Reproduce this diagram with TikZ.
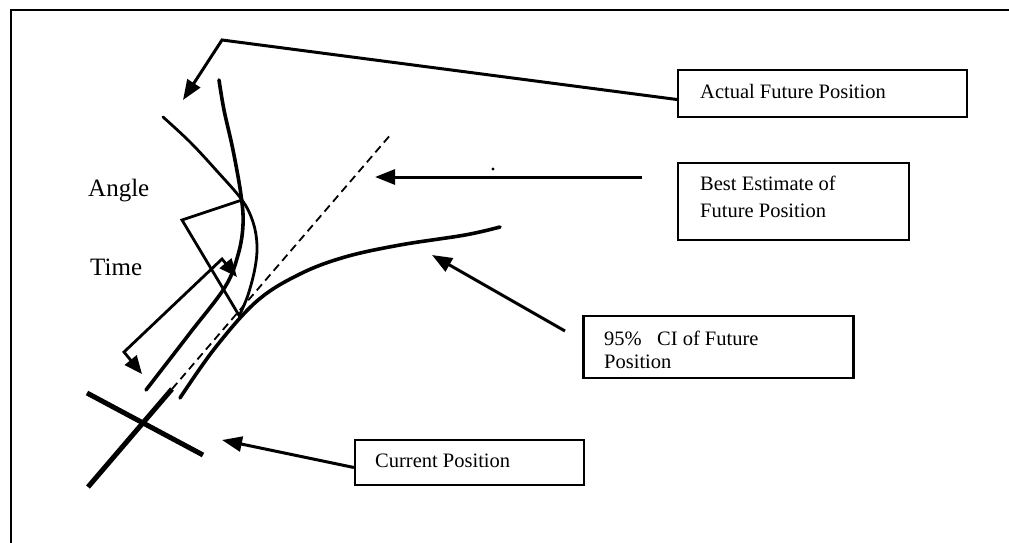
\documentclass[tikz,border=0pt]{standalone}
\usepackage{fontspec}
\setmainfont{Liberation Serif}
\usetikzlibrary{arrows.meta}
\begin{document}
\begin{tikzpicture}[x=1pt,y=-1pt,
  box/.style={draw,line width=2.1pt,inner sep=0pt},
  lbl/.style={anchor=base west,inner sep=0pt,font=\fontsize{20.5}{24}\selectfont},
  big/.style={anchor=base west,inner sep=0pt,font=\fontsize{25}{30}\selectfont},
  arr/.style={line width=3pt,-{Triangle[length=20pt,width=15pt]}},
  curve/.style={line width=3.6pt,line cap=round},
  thin/.style={line width=2.8pt,line cap=round}]
\useasboundingbox (0,0) rectangle (1009,543);
% frame
\draw[line width=2.2pt] (11,543) -- (11,10) -- (1009,10);
% boxes
\node (actual) [box,minimum width=289pt,minimum height=47pt] at (822.5,93.5) {};
\node (best) [box,minimum width=231pt,minimum height=77pt] at (793.5,201.5) {};
\node (ci) [box,minimum width=270pt,minimum height=62pt] at (718.5,347) {};
\node (current) [box,minimum width=229pt,minimum height=45pt] at (469.5,462.5) {};
% texts
\node (t1) [lbl] at (700,99) {Actual Future Position};
\node (t2) [lbl] at (700,190) {Best Estimate of};
\node (t3) [lbl] at (700,217) {Future Position};
\node (t4) [lbl] at (604,345) {95\%\ \ \ CI of Future};
\node (t5) [lbl] at (604,368) {Position};
\node (t6) [lbl] at (375,467) {Current Position};
\node (angle) [big] at (88,196) {Angle};
\node (time) [big] at (90,275) {Time};
% coordinates
\coordinate (bend) at (222,40);
\coordinate (tipA) at (183,100);
\coordinate (bstart) at (642,177);
\coordinate (tipB) at (375,177);
\coordinate (cstart) at (565,331);
\coordinate (tipC) at (432,255);
\coordinate (tipD) at (222,440);
% connectors
\draw[arr] ([yshift=-6pt]actual.west) -- (bend) -- (tipA);
\draw[arr] (bstart) -- (tipB);
\draw[arr] (cstart) -- (tipC);
\draw[arr] ([yshift=-5pt]current.west) -- (tipD);
\fill (493,169) circle (1.6pt);
% path: thick solid then dashed estimate
\coordinate (p0) at (88,487);
\coordinate (p1) at (172,389);
\coordinate (p2) at (392,133);
\draw[line width=5pt] (p0) -- (p1);
\draw[line width=1.8pt,dash pattern=on 8pt off 5pt] (p1) -- (p2);
\draw[line width=5pt] (87,393) -- (203,455);
% CI curves
\draw[curve] plot[smooth,tension=0.6] coordinates {(180,398) (215,348) (257,301) (300,274) (345,257) (400,245) (465,235) (500,227)};
\draw[curve] plot[smooth,tension=0.6] coordinates {(146,390) (190,333) (225,287) (238,255) (243,225) (241,195) (233,150) (224,110) (219,80)};
% actual curve
\draw[thin] plot[smooth,tension=0.6] coordinates {(163,117) (190,142) (216,170) (242,200) (253,222) (257,245) (255,268) (248,295) (240,314)};
% angle marker
\draw[thin,line cap=butt] (242,200) -- (182,220) -- (240,317);
% time arrow
\draw[line width=2.8pt,{Triangle[length=18pt,width=15pt]}-{Triangle[length=18pt,width=15pt]}] (237,277) -- (222,259) -- (124,352) -- (142,374);
\end{tikzpicture}
\end{document}
